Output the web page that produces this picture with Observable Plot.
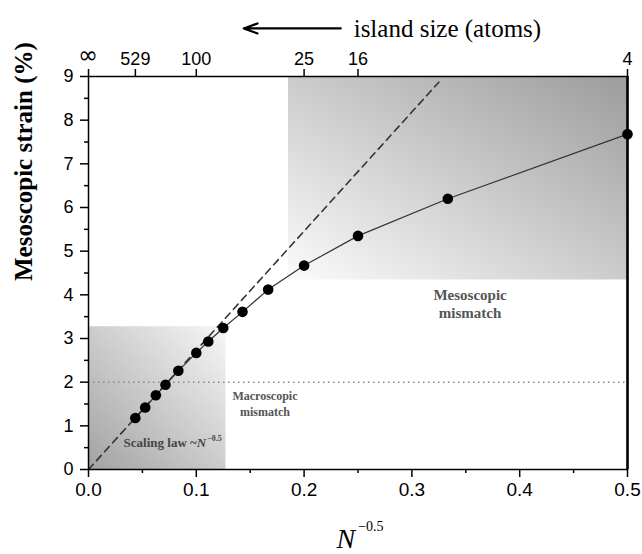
<!DOCTYPE html>
<html><head><meta charset="utf-8">
<script src="https://cdn.jsdelivr.net/npm/d3@7"></script>
<script src="https://cdn.jsdelivr.net/npm/@observablehq/plot@0.6"></script>
<style>body{margin:0;background:#fff}</style>
</head><body><div id="chart"></div>
<script>
// ---- data ----
const islandSizes = [529, 361, 256, 196, 144, 100, 81, 64, 49, 36, 25, 16, 9, 4];
const strainValues = [1.18, 1.42, 1.70, 1.94, 2.26, 2.67, 2.93, 3.24, 3.61, 4.12, 4.67, 5.35, 6.20, 7.68];
const bottomTicks = [0, 0.1, 0.2, 0.3, 0.4, 0.5];
const bottomMinorTicks = [0.05, 0.15, 0.25, 0.35, 0.45];
const leftTicks = [0, 1, 2, 3, 4, 5, 6, 7, 8, 9];
const leftMinorTicks = [0.5, 1.5, 2.5, 3.5, 4.5, 5.5, 6.5, 7.5, 8.5];
const topTickSizes = [529, 100, 25, 16, 4];
const topTickLabels = ["529", "100", "25", "16", "4"];
const infiniteSize = [Infinity];
const scalingLawX = [0, 0.325];
const scalingLawY = [0, 8.87];
const macroscopicLevel = [2];
const scalingRegion = [{x1: 0, x2: 0.1275, y1: 0, y2: 3.27}];
const mesoscopicRegion = [{x1: 0.1855, x2: 0.5, y1: 4.34, y2: 9}];

const points = islandSizes.map((n, i) => ({x: 1 / Math.sqrt(n), y: strainValues[i]}));
const scalingLine = scalingLawX.map((x, i) => ({x, y: scalingLawY[i]}));
const topX = topTickSizes.map(n => 1 / Math.sqrt(n));
const topLabelMap = new Map(topX.map((x, i) => [x, topTickLabels[i]]));
const infX = infiniteSize.map(n => 1 / Math.sqrt(n));

const SERIF = "'Liberation Serif', 'Times New Roman', serif";
const SANS = "'Liberation Sans', Arial, Helvetica, sans-serif";

const defsMark = () => {
  const g = d3.create("svg:g");
  const defs = g.append("defs");
  const g1 = defs.append("linearGradient").attr("id", "gradScaling")
    .attr("x1", 0).attr("y1", 1).attr("x2", 1).attr("y2", 0);
  g1.append("stop").attr("offset", 0).attr("stop-color", "#a2a2a2");
  g1.append("stop").attr("offset", 1).attr("stop-color", "#f7f7f7");
  const g2 = defs.append("linearGradient").attr("id", "gradMeso")
    .attr("x1", 0).attr("y1", 1).attr("x2", 1).attr("y2", 0);
  g2.append("stop").attr("offset", 0).attr("stop-color", "#fbfbfb");
  g2.append("stop").attr("offset", 1).attr("stop-color", "#9c9c9c");
  return g.node();
};

const scalingLawLabel = (index, scales) => {
  const t = d3.create("svg:text")
    .attr("x", scales.x(0.033)).attr("y", scales.y(0.5))
    .attr("text-anchor", "start")
    .attr("font-family", SERIF).attr("font-size", 13).attr("fill", "#444").attr("font-weight", "bold");
  t.append("tspan").text("Scaling law ~");
  t.append("tspan").attr("font-style", "italic").text("N");
  t.append("tspan").attr("font-size", 8).attr("dy", -6).attr("dx", 1).text("−0.5");
  return t.node();
};

const xAxisLabel = (index, scales, values, dims) => {
  const t = d3.create("svg:text")
    .attr("x", scales.x(0.2305)).attr("y", dims.height - 6)
    .attr("text-anchor", "start")
    .attr("font-family", SERIF).attr("fill", "black");
  t.append("tspan").attr("font-style", "italic").attr("font-size", 28).text("N");
  t.append("tspan").attr("font-size", 14).attr("dy", -17).attr("dx", 3).text("−0.5");
  return t.node();
};

const infinityLabel = (index, scales, values, dims) => {
  const t = d3.create("svg:text")
    .attr("x", scales.x(infX[0])).attr("y", dims.marginTop - 13)
    .attr("text-anchor", "middle")
    .attr("font-family", "'DejaVu Sans', sans-serif").attr("font-size", 24).attr("fill", "black")
    .text("∞");
  return t.node();
};

const chart = Plot.plot({
  width: 642,
  height: 554,
  marginLeft: 88,
  marginRight: 15,
  marginTop: 76,
  marginBottom: 85,
  style: {fontFamily: SANS, background: "white", color: "black", overflow: "visible"},
  x: {domain: [0, 0.5]},
  y: {domain: [0, 9]},
  marks: [
    defsMark,
    Plot.rect(scalingRegion, {x1: "x1", x2: "x2", y1: "y1", y2: "y2", fill: "url(#gradScaling)"}),
    Plot.rect(mesoscopicRegion, {x1: "x1", x2: "x2", y1: "y1", y2: "y2", fill: "url(#gradMeso)"}),
    Plot.ruleY(macroscopicLevel, {stroke: "#888", strokeWidth: 1.5, strokeDasharray: "1.5,3.5"}),
    Plot.line(scalingLine, {x: "x", y: "y", stroke: "#333", strokeWidth: 1.6, strokeDasharray: "7,5"}),
    Plot.line(points, {x: "x", y: "y", stroke: "#333", strokeWidth: 1.2}),
    Plot.dot(points, {x: "x", y: "y", r: 5.3, fill: "black", stroke: "none"}),
    Plot.frame({stroke: "black", strokeWidth: 1.5}),
    Plot.ruleX([0.5], {stroke: "black", strokeWidth: 2.5}),
    Plot.axisX(bottomTicks, {anchor: "bottom", tickSize: 8, tickPadding: 5, tickFormat: d3.format(".1f"), fontSize: 19, fontFamily: SANS, label: null, strokeWidth: 1.5}),
    Plot.axisX(bottomMinorTicks, {anchor: "bottom", tickSize: 4, text: null, label: null, strokeWidth: 1.5}),
    Plot.axisX(topX, {anchor: "top", tickSize: 8, tickPadding: 4, tickFormat: d => topLabelMap.get(d), fontSize: 18, fontFamily: SANS, label: null, strokeWidth: 1.5}),
    Plot.axisX(infX, {anchor: "top", tickSize: 8, text: null, label: null, strokeWidth: 1.5}),
    infinityLabel,
    Plot.axisY(leftTicks, {anchor: "left", tickSize: 8, tickPadding: 7, fontSize: 18, fontFamily: SANS, label: null, strokeWidth: 1.5}),
    Plot.axisY(leftMinorTicks, {anchor: "left", tickSize: 4, text: null, label: null, strokeWidth: 1.5}),
    Plot.text(["Mesoscopic strain (%)"], {frameAnchor: "left", rotate: -90, dx: -65, dy: 8, fontSize: 25, fontWeight: "bold", fontFamily: SERIF, fill: "black"}),
    Plot.text(["Mesoscopic\nmismatch"], {x: 0.354, y: 3.80, fontSize: 15, lineHeight: 1.2, fontWeight: "bold", fontFamily: SERIF, fill: "#555"}),
    Plot.text(["Macroscopic\nmismatch"], {x: 0.1637, y: 1.53, fontSize: 12, lineHeight: 1.4, fontWeight: "bold", fontFamily: SERIF, fill: "#555"}),
    scalingLawLabel,
    xAxisLabel,
    Plot.arrow([0], {x1: 0.234, y1: 10.1, x2: 0.144, y2: 10.1, stroke: "black", strokeWidth: 2.2, headLength: 10, headAngle: 40}),
    Plot.text(["island size (atoms)"], {x: 0.246, y: 10.1, textAnchor: "start", dy: 1, fontSize: 25, fontFamily: SERIF, fill: "black"})
  ]
});
document.getElementById("chart").appendChild(chart);
</script>
</body></html>
